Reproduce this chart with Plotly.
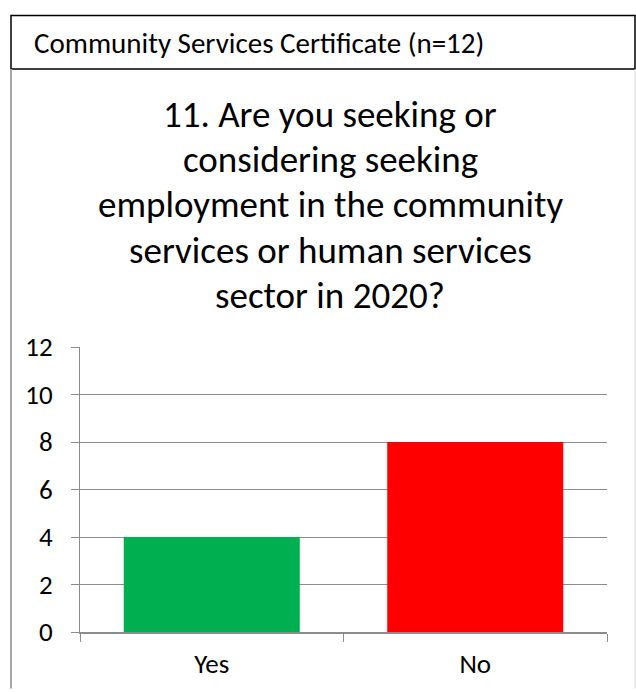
import plotly.graph_objects as go

# Survey responses
categories = ["Yes", "No"]
counts = [4, 8]
bar_colors = ["#00B050", "#FF0000"]

header_text = "Community Services Certificate (n=12)"
title_lines = [
    "11. Are you seeking or",
    "considering seeking",
    "employment in the community",
    "services or human services",
    "sector in 2020?",
]
y_ticks = [0, 2, 4, 6, 8, 10, 12]

FONT = "Carlito, Calibri, Lato, sans-serif"
W, H = 636, 692
L, R, T, B = 80, 29, 347, 57
PW, PH = W - L - R, H - T - B


def px(x):
    return (x - L) / PW


def py(y):
    return (H - B - y) / PH


fig = go.Figure(
    go.Bar(
        x=categories,
        y=counts,
        marker=dict(color=bar_colors, line=dict(width=0)),
        width=0.668,
    )
)

fig.update_layout(
    width=W,
    height=H,
    margin=dict(l=L, r=R, t=T, b=B),
    paper_bgcolor="white",
    plot_bgcolor="white",
    showlegend=False,
    font=dict(family=FONT, color="black", size=27),
)

fig.update_yaxes(
    range=[0, 12],
    tickvals=y_ticks,
    showgrid=True,
    gridcolor="#8C8C8C",
    gridwidth=1,
    showline=True,
    linecolor="#8C8C8C",
    linewidth=1,
    ticks="outside",
    ticklen=8,
    tickcolor="#8C8C8C",
    tickfont=dict(family=FONT, size=27, color="black"),
    ticklabelstandoff=13,
    zeroline=False,
)
fig.update_xaxes(
    showline=True,
    linecolor="#8C8C8C",
    linewidth=2,
    ticks="outside",
    tickson="boundaries",
    ticklen=8,
    tickcolor="#8C8C8C",
    tickfont=dict(family=FONT, size=27, color="black"),
    ticklabelstandoff=7,
)

shapes = [
    # header box
    dict(type="rect", xref="paper", yref="paper",
         x0=px(11), x1=px(635), y0=py(66), y1=py(12),
         line=dict(color="black", width=1.5), fillcolor="rgba(0,0,0,0)"),
    # outer frame below header
    dict(type="line", xref="paper", yref="paper",
         x0=px(11), x1=px(11), y0=py(66), y1=py(692),
         line=dict(color="#A6A6A6", width=2)),
    dict(type="line", xref="paper", yref="paper",
         x0=px(635), x1=px(635), y0=py(66), y1=py(692),
         line=dict(color="#D9D9D9", width=1)),
]
fig.update_layout(shapes=shapes)

annotations = [
    dict(text=header_text, xref="paper", yref="paper",
         x=px(32), y=py(40), xanchor="left", yanchor="middle",
         showarrow=False, font=dict(family=FONT, size=29, color="black")),
]
line_baselines = [124, 170, 215, 261, 307]
for line, base in zip(title_lines, line_baselines):
    annotations.append(
        dict(text=line, xref="paper", yref="paper",
             x=px(330), y=py(base - 12), xanchor="center", yanchor="middle",
             showarrow=False, font=dict(family=FONT, size=37, color="black"))
    )
fig.update_layout(annotations=annotations)

fig.write_html("out.html")
